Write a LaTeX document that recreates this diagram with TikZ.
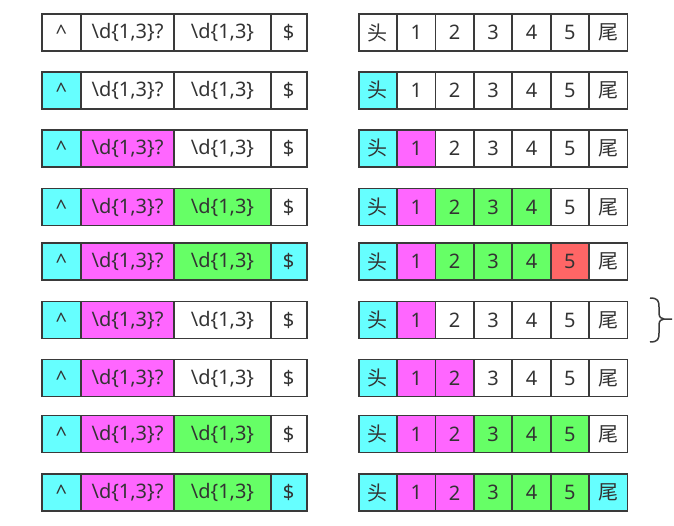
\documentclass[tikz,border=0pt]{standalone}
\usepackage{fontspec}
\setmainfont{Noto Sans}
\newfontfamily\cjk{Noto Sans CJK SC}
\usetikzlibrary{positioning}
\definecolor{linegray}{HTML}{3A3A3A}
\definecolor{textgray}{HTML}{333333}
\definecolor{cy}{HTML}{66FFFF}
\definecolor{mg}{HTML}{FF66FF}
\definecolor{gn}{HTML}{66FF66}
\definecolor{rd}{HTML}{FF6666}
\definecolor{wt}{HTML}{FFFFFF}
\tikzset{
  cell/.style={draw=linegray, line width=1.8pt, minimum height=37pt, inner sep=0pt,
    outer sep=0pt, text=textgray, font=\fontsize{20}{20}\selectfont},
  numcell/.style={cell, minimum width=38.4pt},
}
\begin{document}
\begin{tikzpicture}[x=1pt,y=-1pt]
        \useasboundingbox (0,0) rectangle (674,526);
        % each row: y / four pattern cells / seven string cells
        \foreach \y/\a/\b/\c/\d/\p/\q/\r/\s/\t/\u/\v [count=\n] in {
          32.7/wt/wt/wt/wt/wt/wt/wt/wt/wt/wt/wt,
          90.3/cy/wt/wt/wt/cy/wt/wt/wt/wt/wt/wt,
          148.3/cy/mg/wt/wt/cy/mg/wt/wt/wt/wt/wt,
          207/cy/mg/gn/wt/cy/mg/gn/gn/gn/wt/wt,
          261.7/cy/mg/gn/cy/cy/mg/gn/gn/gn/rd/wt,
          320/cy/mg/wt/wt/cy/mg/wt/wt/wt/wt/wt,
          378/cy/mg/wt/wt/cy/mg/mg/wt/wt/wt/wt,
          434/cy/mg/gn/wt/cy/mg/mg/gn/gn/gn/wt,
          492.8/cy/mg/gn/cy/cy/mg/mg/gn/gn/gn/cy} {
          \node[cell, fill=\a, minimum width=38.7pt, anchor=west] (L\n-1) at (42,\y) {\textasciicircum};
          \node[cell, fill=\b, minimum width=93.6pt, right=0pt of L\n-1] (L\n-2) {\textbackslash d\{1,3\}?};
          \node[cell, fill=\c, minimum width=96.4pt, right=0pt of L\n-2] (L\n-3) {\textbackslash d\{1,3\}};
          \node[cell, fill=\d, minimum width=36pt, right=0pt of L\n-3] (L\n-4) {\$};
          \node[numcell, fill=\p, anchor=west] (R\n-1) at (358.7,\y) {\cjk 头};
          \node[numcell, fill=\q, right=0pt of R\n-1] (R\n-2) {1};
          \node[numcell, fill=\r, right=0pt of R\n-2] (R\n-3) {2};
          \node[numcell, fill=\s, right=0pt of R\n-3] (R\n-4) {3};
          \node[numcell, fill=\t, right=0pt of R\n-4] (R\n-5) {4};
          \node[numcell, fill=\u, right=0pt of R\n-5] (R\n-6) {5};
          \node[numcell, fill=\v, right=0pt of R\n-6] (R\n-7) {\cjk 尾};
        }
        % brace
        \draw[linegray, line width=1.5pt]
          (650,298) .. controls (658,298) and (659,301) .. (659,307) -- (659,313)
          .. controls (659,317) and (661,319) .. (664,319) -- (672,319);
        \draw[linegray, line width=1.5pt]
          (650,342) .. controls (658,342) and (659,339) .. (659,333) -- (659,325)
          .. controls (659,321) and (661,319) .. (664,319);
\end{tikzpicture}
\end{document}
